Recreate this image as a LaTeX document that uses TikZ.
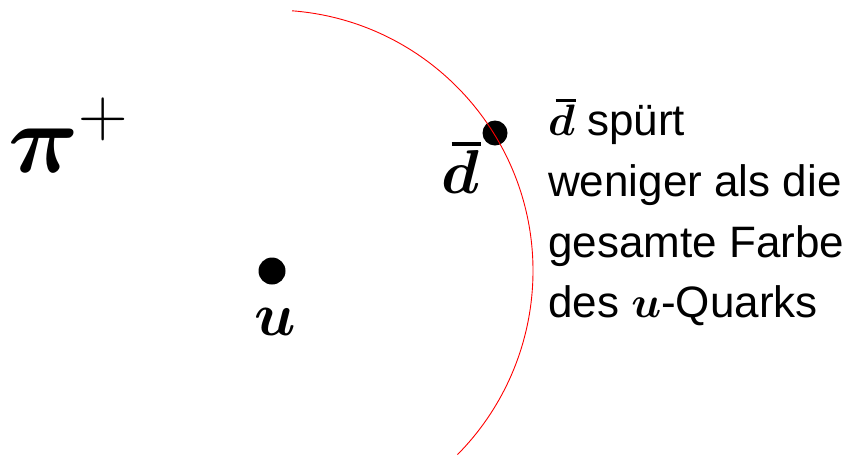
\RequirePackage{fix-cm}
\documentclass[tikz,border=0pt]{standalone}
\usepackage{amsmath}
\usepackage{bm}
\usepackage{fontspec}
\setmainfont{Liberation Sans}
\newcommand{\dbarsym}{\rlap{\hspace{0.17em}\rule[0.76em]{0.47em}{0.065em}}$\bm{d}$}
\tikzset{
  quark/.style={circle, fill=black, inner sep=0pt, minimum size=#1},
  lbl/.style={inner sep=0pt, anchor=base west},
  sidetext/.style={inner sep=0pt, anchor=base west, font=\fontsize{44}{50}\selectfont},
}
\begin{document}
\begin{tikzpicture}[x=1pt,y=1pt]
\useasboundingbox (0,0) rectangle (858,-456);
\node[quark=27pt] (u) at (272,-271) {};
\node[quark=25pt] (dbar) at (495,-133) {};
\draw[red, line width=0.9pt] (u.center) ++(85.6:261pt) arc[start angle=85.6, end angle=-44.7, radius=261pt];
\node[lbl, font=\fontsize{98}{100}\selectfont] (pi) at (8,-172) {$\bm{\pi}^{+}$};
\node[lbl, font=\fontsize{62}{64}\selectfont] (dl) at (441,-193) {\dbarsym};
\node[inner sep=0pt, anchor=base, font=\fontsize{61}{63}\selectfont] (ul) at (275,-335) {$\bm{u}$};
\node[sidetext] (t1) at (548,-135) {\dbarsym\ spürt};
\node[sidetext] (t2) at (548,-196) {weniger als die};
\node[sidetext] (t3) at (548,-257) {gesamte Farbe};
\node[sidetext] (t4) at (548,-317) {des $\bm{u}$-Quarks};
\end{tikzpicture}
\end{document}
